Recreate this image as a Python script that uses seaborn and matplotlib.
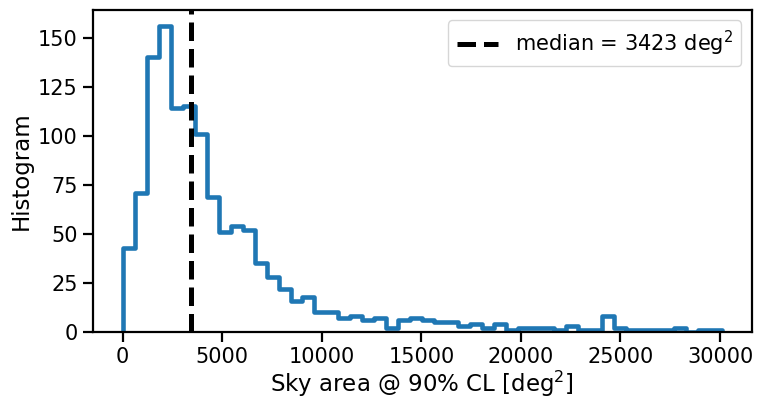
import numpy as np
import pandas as pd
import seaborn as sns
import matplotlib.pyplot as plt

# counts per bin (50 bins from 0 to ~30100 deg^2)
bin_counts = [43, 71, 140, 156, 114, 115, 101, 69, 51, 54,
              52, 35, 28, 22, 16, 18, 10, 10, 7, 8,
              6, 7, 2, 6, 7, 6, 5, 5, 3, 4,
              2, 4, 1, 2, 2, 2, 1, 3, 1, 1,
              8, 2, 1, 1, 1, 1, 2, 0, 1, 1]
area_max = 30100
median_area = 3423

n_bins = len(bin_counts)
bin_edges = np.linspace(0, area_max, n_bins + 1)
df = pd.DataFrame({
    "area": 0.5 * (bin_edges[:-1] + bin_edges[1:]),
    "count": bin_counts,
})

sns.set_style("ticks", {"axes.edgecolor": "black", "text.color": "black",
                        "axes.labelcolor": "black", "xtick.color": "black",
                        "ytick.color": "black"})
plt.rcParams['font.family'] = ['DejaVu Sans']

fig, ax = plt.subplots(figsize=(7.61, 4.01), dpi=100)
sns.histplot(data=df, x="area", weights="count", bins=n_bins,
             binrange=(0, area_max), element="step", fill=False,
             color="#1f77b4", linewidth=3.3, ax=ax)

# close the outline down to zero at both ends, like histtype="step"
step = ax.lines[0]
xs, ys = step.get_data()
step.set_data(np.r_[xs[0], xs, xs[-1]], np.r_[0, ys, 0])

ax.axvline(median_area, color="k", ls="--", lw=3.6,
           label=f"median = {median_area} deg$^2$")

ax.set_xticks(np.arange(0, 30001, 5000))
ax.set_yticks(np.arange(0, 151, 25))
ax.set_xlim(-1500, 31600)
ax.set_ylim(0, 164)
ax.set_xlabel("Sky area @ 90% CL [deg$^2$]", fontsize=16.5, labelpad=1)
ax.set_ylabel("Histogram", fontsize=16.5)
ax.tick_params(labelsize=15, length=7, width=1.6, pad=4)
for sp in ax.spines.values():
    sp.set_linewidth(1.6)
ax.legend(loc="upper right", fontsize=15, handlelength=2.0,
          borderaxespad=0.5)

plt.subplots_adjust(left=0.122, right=0.988, top=0.975, bottom=0.172)
plt.savefig("out.png", dpi=100)
plt.close(fig)
